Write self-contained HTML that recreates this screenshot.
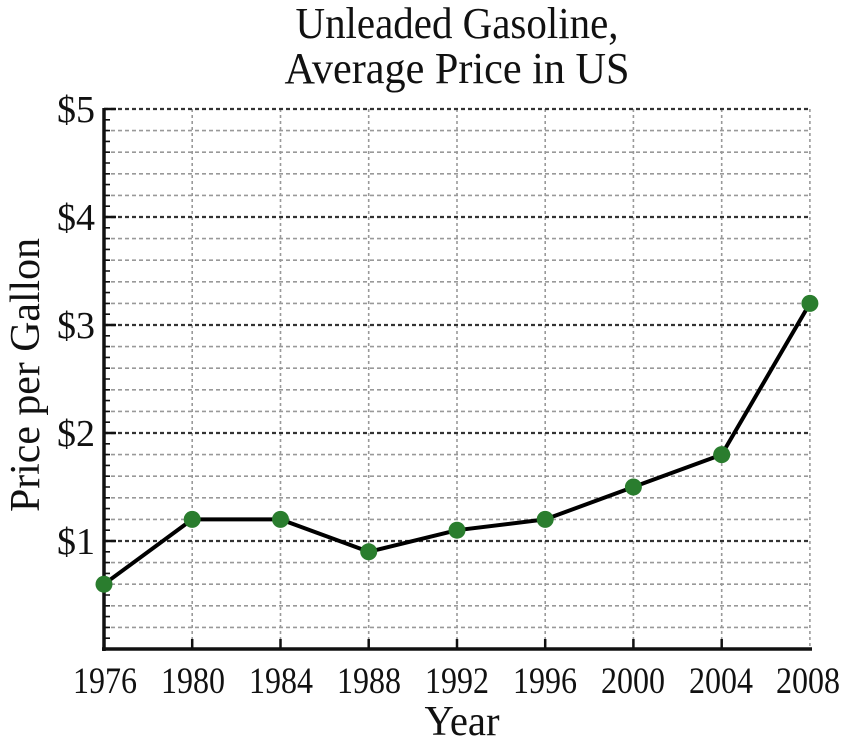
<!DOCTYPE html>
<html><head><meta charset="utf-8"><style>body{margin:0;background:#fff}svg{display:block}</style></head><body>
<svg width="844" height="748" viewBox="0 0 844 748" xmlns="http://www.w3.org/2000/svg" font-family="Liberation Serif, serif" fill="#111">
<text x="457" y="38" font-size="44" text-anchor="middle" textLength="323" lengthAdjust="spacingAndGlyphs">Unleaded Gasoline,</text>
<text x="457" y="83" font-size="44" text-anchor="middle" textLength="345" lengthAdjust="spacingAndGlyphs">Average Price in US</text>
<g stroke="#999" stroke-width="1.6" stroke-dasharray="4 3">
<line x1="104" x2="811" y1="627.4" y2="627.4"/><line x1="104" x2="811" y1="605.8" y2="605.8"/><line x1="104" x2="811" y1="584.2" y2="584.2"/><line x1="104" x2="811" y1="562.6" y2="562.6"/>
<line x1="104" x2="811" y1="519.4" y2="519.4"/><line x1="104" x2="811" y1="497.8" y2="497.8"/><line x1="104" x2="811" y1="476.2" y2="476.2"/><line x1="104" x2="811" y1="454.6" y2="454.6"/>
<line x1="104" x2="811" y1="411.4" y2="411.4"/><line x1="104" x2="811" y1="389.8" y2="389.8"/><line x1="104" x2="811" y1="368.2" y2="368.2"/><line x1="104" x2="811" y1="346.6" y2="346.6"/>
<line x1="104" x2="811" y1="303.4" y2="303.4"/><line x1="104" x2="811" y1="281.8" y2="281.8"/><line x1="104" x2="811" y1="260.2" y2="260.2"/><line x1="104" x2="811" y1="238.6" y2="238.6"/>
<line x1="104" x2="811" y1="195.4" y2="195.4"/><line x1="104" x2="811" y1="173.8" y2="173.8"/><line x1="104" x2="811" y1="152.2" y2="152.2"/><line x1="104" x2="811" y1="130.6" y2="130.6"/>
</g>
<g stroke="#999" stroke-width="1.6" stroke-dasharray="3 3">
<line x1="192.2" x2="192.2" y1="109" y2="649"/><line x1="280.5" x2="280.5" y1="109" y2="649"/><line x1="368.7" x2="368.7" y1="109" y2="649"/><line x1="457" x2="457" y1="109" y2="649"/>
<line x1="545.2" x2="545.2" y1="109" y2="649"/><line x1="633.4" x2="633.4" y1="109" y2="649"/><line x1="721.7" x2="721.7" y1="109" y2="649"/><line x1="809.9" x2="809.9" y1="109" y2="649"/>
</g>
<g stroke="#333" stroke-width="2.2" stroke-dasharray="4 3">
<line x1="104" x2="811" y1="541" y2="541"/><line x1="104" x2="811" y1="433" y2="433"/><line x1="104" x2="811" y1="325" y2="325"/><line x1="104" x2="811" y1="217" y2="217"/><line x1="104" x2="811" y1="109" y2="109"/>
</g>
<line x1="107" x2="107" y1="649.8" y2="108" stroke="#111" stroke-width="6" stroke-dasharray="1.6 9.2"/>
<g stroke="#111" stroke-width="2.5">
<line x1="104" x2="116" y1="541" y2="541"/><line x1="104" x2="116" y1="433" y2="433"/><line x1="104" x2="116" y1="325" y2="325"/><line x1="104" x2="116" y1="217" y2="217"/><line x1="104" x2="116" y1="109" y2="109"/>
<line x1="192.2" x2="192.2" y1="649" y2="639"/><line x1="280.5" x2="280.5" y1="649" y2="639"/><line x1="368.7" x2="368.7" y1="649" y2="639"/><line x1="457" x2="457" y1="649" y2="639"/>
<line x1="545.2" x2="545.2" y1="649" y2="639"/><line x1="633.4" x2="633.4" y1="649" y2="639"/><line x1="721.7" x2="721.7" y1="649" y2="639"/>
</g>
<line x1="104" x2="104" y1="108" y2="651" stroke="#111" stroke-width="3.5"/>
<line x1="102" x2="812" y1="649" y2="649" stroke="#111" stroke-width="3.5"/>
<polyline fill="none" stroke="#000" stroke-width="4" stroke-linejoin="round" points="104,584.2 192.2,519.4 280.5,519.4 368.7,551.8 457,530.2 545.2,519.4 633.4,487 721.7,454.6 809.9,303.4"/>
<g fill="#2a7d2e">
<circle cx="104" cy="584.2" r="8.5"/><circle cx="192.2" cy="519.4" r="8.5"/><circle cx="280.5" cy="519.4" r="8.5"/><circle cx="368.7" cy="551.8" r="8.5"/><circle cx="457" cy="530.2" r="8.5"/>
<circle cx="545.2" cy="519.4" r="8.5"/><circle cx="633.4" cy="487" r="8.5"/><circle cx="721.7" cy="454.6" r="8.5"/><circle cx="809.9" cy="303.4" r="8.5"/>
</g>
<g font-size="37" text-anchor="middle">
<text x="105" y="693" textLength="64" lengthAdjust="spacingAndGlyphs">1976</text><text x="193" y="693" textLength="64" lengthAdjust="spacingAndGlyphs">1980</text><text x="281" y="693" textLength="64" lengthAdjust="spacingAndGlyphs">1984</text><text x="369" y="693" textLength="64" lengthAdjust="spacingAndGlyphs">1988</text><text x="457" y="693" textLength="64" lengthAdjust="spacingAndGlyphs">1992</text>
<text x="545" y="693" textLength="64" lengthAdjust="spacingAndGlyphs">1996</text><text x="633" y="693" textLength="64" lengthAdjust="spacingAndGlyphs">2000</text><text x="721" y="693" textLength="64" lengthAdjust="spacingAndGlyphs">2004</text><text x="808" y="693" textLength="64" lengthAdjust="spacingAndGlyphs">2008</text>
</g>
<g font-size="38">
<text x="57" y="554" textLength="38" lengthAdjust="spacingAndGlyphs">$1</text><text x="57" y="446" textLength="38" lengthAdjust="spacingAndGlyphs">$2</text><text x="57" y="338" textLength="38" lengthAdjust="spacingAndGlyphs">$3</text><text x="57" y="230" textLength="38" lengthAdjust="spacingAndGlyphs">$4</text><text x="57" y="122" textLength="38" lengthAdjust="spacingAndGlyphs">$5</text>
</g>
<text x="462" y="735" font-size="42" text-anchor="middle" textLength="75" lengthAdjust="spacingAndGlyphs">Year</text>
<text transform="translate(39,375) rotate(-90)" font-size="42" text-anchor="middle" textLength="274" lengthAdjust="spacingAndGlyphs">Price per Gallon</text>
</svg>
</body></html>
